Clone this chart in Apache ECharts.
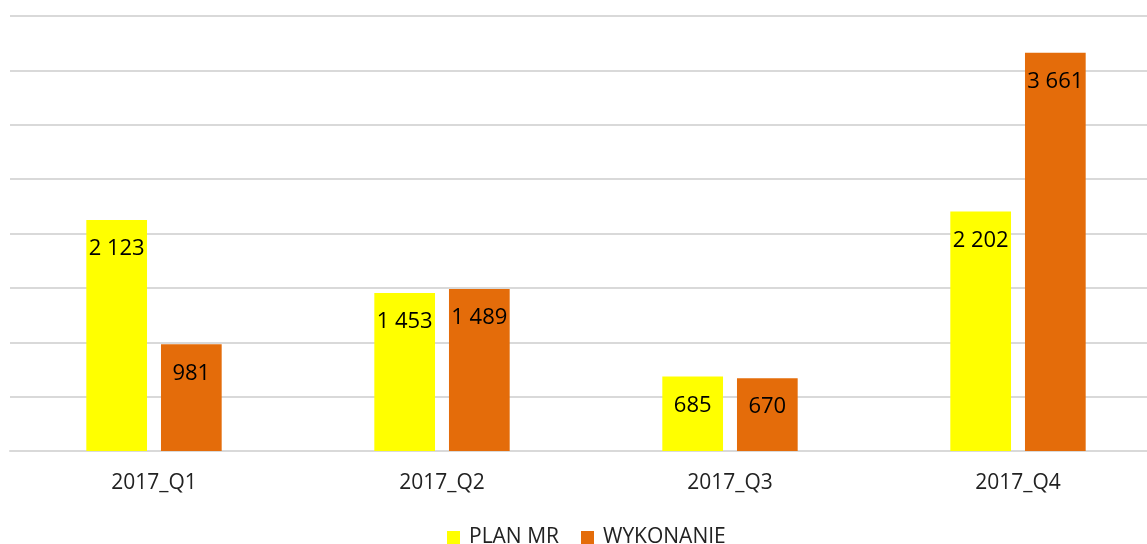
<!DOCTYPE html>
<html><head><meta charset="utf-8">
<script src="https://cdn.jsdelivr.net/npm/echarts@6/dist/echarts.min.js"></script>
<style>html,body{margin:0;padding:0;background:#fff}#c{width:1147px;height:544px}</style>
</head><body><div id="c"></div>
<script>
const categories = ['2017_Q1','2017_Q2','2017_Q3','2017_Q4'];
const planMR = [2123, 1453, 685, 2202];
const wykonanie = [981, 1489, 670, 3661];
const seriesNames = ['PLAN MR','WYKONANIE'];

const fmt = v => String(v).replace(/\B(?=(\d{3})+(?!\d))/g, ' ');
const font = '"Open Sans", "Liberation Sans", sans-serif';
const chart = echarts.init(document.getElementById('c'), null, {renderer:'canvas'});
const lbl = {show:true, position:'insideTop', distance:18, color:'#000', fontSize:22, fontFamily:font,
  formatter: p => fmt(p.value)};
chart.setOption({
  animation:false,
  grid:{left:10, top:16, right:-15, height:435, outerBoundsMode:'none', containLabel:false},
  legend:{bottom:-9, left:442, itemWidth:13, itemHeight:13, itemGap:22,
    icon:'rect', textStyle:{fontSize:21, fontFamily:font, color:'#222', padding:[0,0,0,4]}},
  xAxis:{type:'category', data:categories,
    axisLine:{lineStyle:{color:'#d9d9d9', width:2}}, axisTick:{show:false},
    axisLabel:{fontSize:21, fontFamily:font, color:'#222', margin:22}},
  yAxis:{type:'value', min:0, max:4000, interval:500,
    axisLabel:{show:false}, axisLine:{show:false}, axisTick:{show:false},
    splitLine:{lineStyle:{color:'#d9d9d9', width:2}}},
  series:[
    {name:seriesNames[0], type:'bar', data:planMR, itemStyle:{color:'#FFFF00'},
      barGap:'23%', barCategoryGap:'53%', label:lbl},
    {name:seriesNames[1], type:'bar', data:wykonanie, itemStyle:{color:'#E46C0A'},
      barGap:'23%', barCategoryGap:'53%', label:lbl}
  ]
});
</script></body></html>
